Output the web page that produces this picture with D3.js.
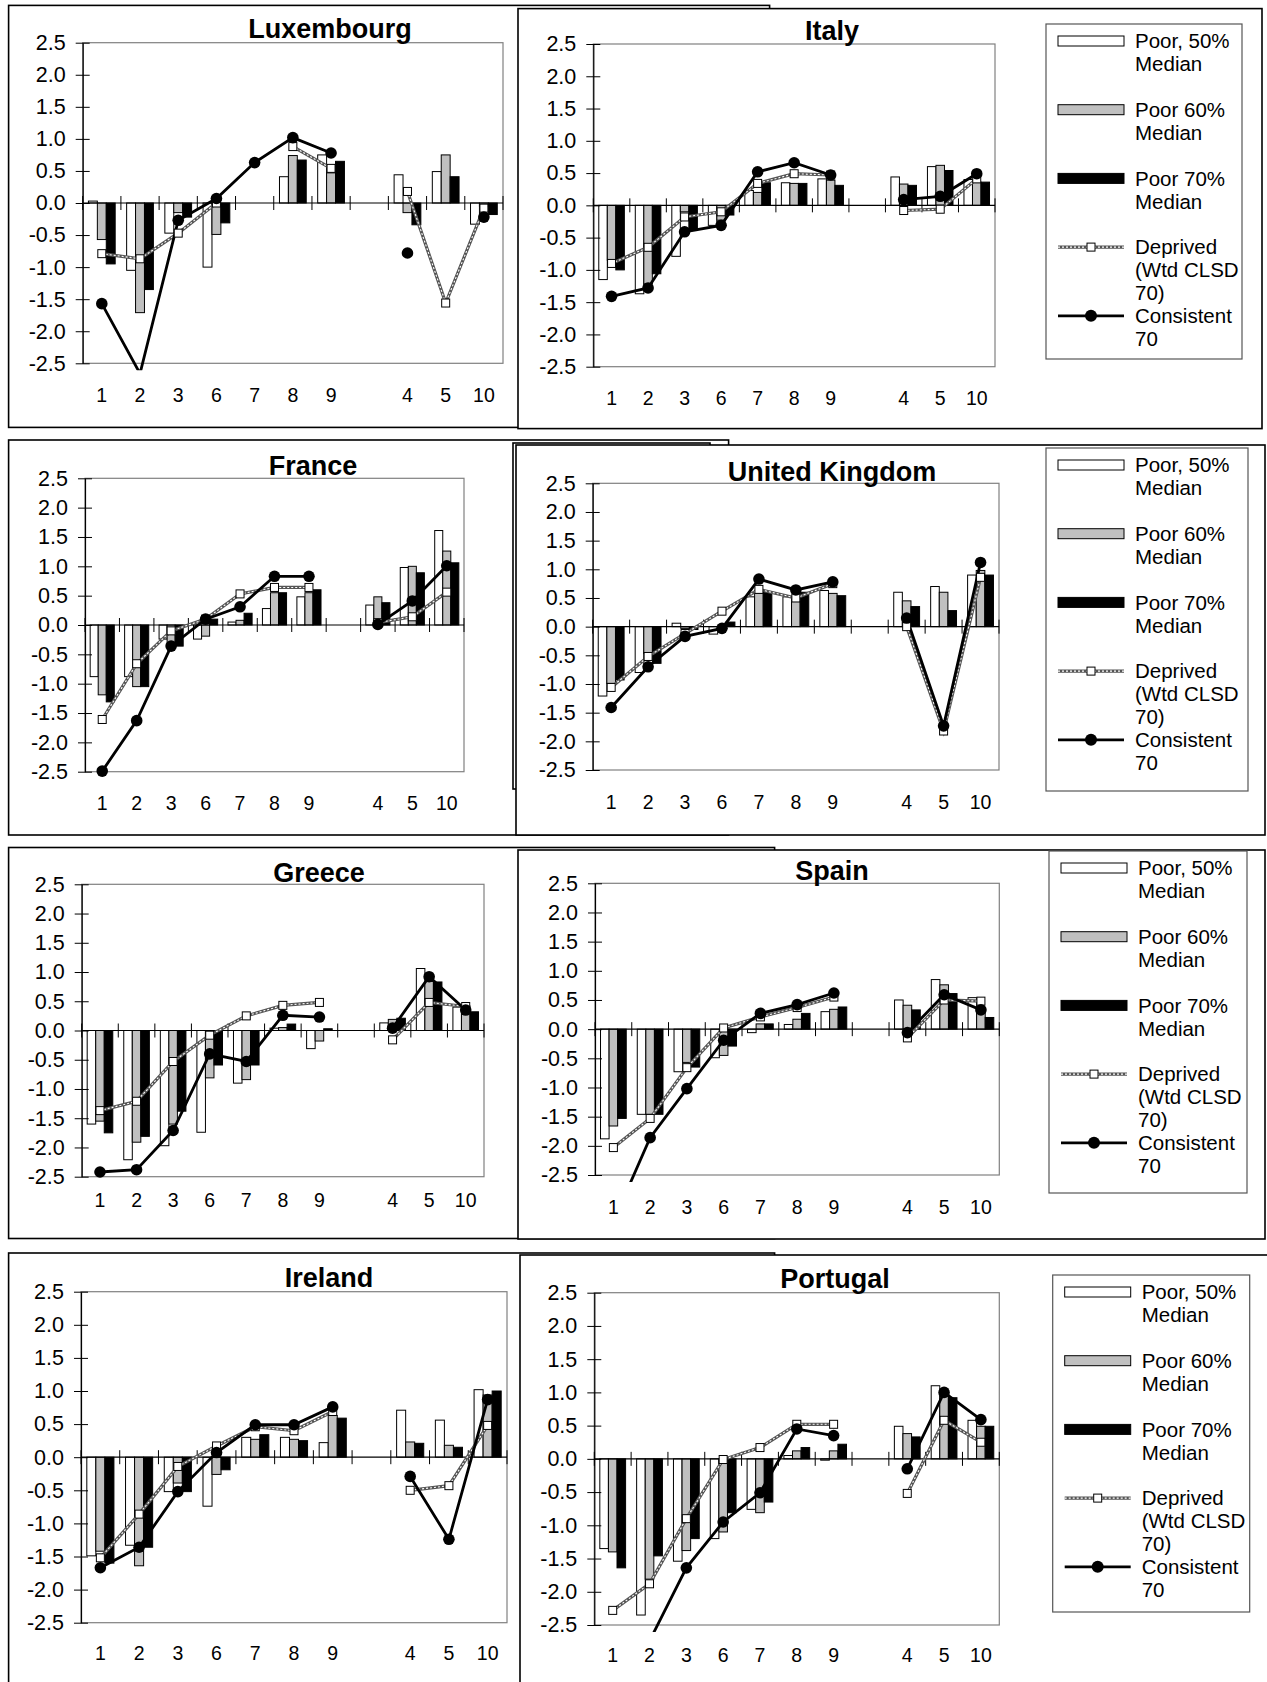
<!DOCTYPE html>
<meta charset="utf-8">
<title>Poverty and deprivation scores by country</title>
<script src="https://d3js.org/d3.v7.min.js"></script>
<style>
body { margin: 0; background: #fff; }
svg text { font-family: "Liberation Sans", Arial, sans-serif; }
</style>
<body>
<div id="chart"></div>
<script>
// x categories, "" is the empty slot between 9 and 4
var categories = ["1", "2", "3", "6", "7", "8", "9", "", "4", "5", "10"];
var countries = ["Luxembourg", "Italy", "France", "United Kingdom", "Greece", "Spain", "Ireland", "Portugal"];
var yTicks = [-2.5, -2.0, -1.5, -1.0, -0.5, 0.0, 0.5, 1.0, 1.5, 2.0, 2.5];

// one row per country, one value per category
var poor50 = [
  [0.03, -1.05, -0.47, -1.0, null, 0.41, 0.75, null, 0.44, 0.49, -0.33],
  [-1.15, -1.37, -0.79, -0.31, 0.23, 0.35, 0.41, null, 0.44, 0.60, 0.40],
  [-0.88, -0.88, -0.24, -0.24, 0.05, 0.28, 0.48, null, 0.34, 0.98, 1.61],
  [-1.21, -0.80, 0.06, -0.13, 0.52, 0.52, 0.63, null, 0.60, 0.70, 0.90],
  [-1.60, -2.21, -1.97, -1.74, -0.90, 0.04, -0.31, null, 0.13, 1.06, 0.40],
  [-1.88, -1.46, -0.73, -0.49, -0.06, 0.08, 0.30, null, 0.50, 0.85, 0.54],
  [-1.49, -1.33, -0.52, -0.74, 0.30, 0.30, 0.22, null, 0.71, 0.56, 1.02],
  [-1.35, -2.35, -1.54, -1.20, -0.76, 0.05, -0.02, null, 0.49, 1.10, 0.58]
];
var poor60 = [
  [-0.57, -1.71, -0.15, -0.49, null, 0.74, 0.47, null, -0.15, 0.75, -0.05],
  [-0.85, -1.22, -0.10, -0.23, 0.20, 0.34, 0.39, null, 0.33, 0.62, 0.36],
  [-1.19, -1.05, -0.36, -0.19, 0.08, 0.55, 0.55, null, 0.48, 1.00, 1.26],
  [-0.99, -0.47, -0.03, -0.05, 0.58, 0.44, 0.58, null, 0.45, 0.60, 0.98],
  [-1.55, -1.91, -1.60, -0.81, -0.84, 0.05, -0.18, null, 0.19, 0.84, 0.42],
  [-1.66, -1.46, -0.57, -0.45, 0.09, 0.17, 0.34, null, 0.41, 0.76, 0.35],
  [-1.42, -1.64, -0.39, -0.26, 0.27, 0.27, 0.63, null, 0.23, 0.18, 0.94],
  [-1.40, -1.81, -1.38, -1.10, -0.81, 0.12, 0.12, null, 0.38, 0.94, 0.49]
];
var poor70 = [
  [-0.95, -1.35, -0.22, -0.31, null, 0.67, 0.65, null, -0.34, 0.41, -0.18],
  [-1.00, -1.06, -0.39, -0.15, 0.35, 0.34, 0.31, null, 0.31, 0.54, 0.36],
  [-1.31, -1.05, -0.36, 0.10, 0.20, 0.55, 0.60, null, 0.38, 0.89, 1.06],
  [-0.93, -0.64, -0.05, 0.08, 0.60, 0.60, 0.54, null, 0.35, 0.28, 0.90],
  [-1.75, -1.81, -1.38, -0.59, -0.59, 0.11, 0.03, null, 0.21, 0.83, 0.32],
  [-1.53, -1.46, -0.65, -0.29, 0.09, 0.27, 0.38, null, 0.33, 0.61, 0.20],
  [-1.60, -1.36, -0.52, -0.19, 0.34, 0.25, 0.59, null, 0.21, 0.15, 1.00],
  [-1.64, -1.46, -1.20, -0.81, -0.65, 0.17, 0.22, null, 0.33, 0.92, 0.49]
];
var deprived = [
  [-0.79, -0.87, -0.47, 0.00, null, 0.88, 0.54, null, 0.18, -1.56, -0.08],
  [-0.90, -0.65, -0.18, -0.10, 0.34, 0.49, 0.47, null, -0.08, -0.06, 0.41],
  [-1.61, -0.66, -0.10, 0.10, 0.53, 0.64, 0.64, null, 0.04, 0.14, 0.56],
  [-1.06, -0.52, -0.12, 0.27, 0.65, 0.50, 0.75, null, 0.00, -1.82, 0.86],
  [-1.37, -1.21, -0.53, -0.08, 0.25, 0.43, 0.48, null, -0.16, 0.48, 0.41],
  [-2.03, -1.53, -0.66, 0.02, 0.21, 0.37, 0.55, null, -0.15, 0.50, 0.48],
  [-1.52, -0.86, -0.14, 0.17, 0.46, 0.40, 0.69, null, -0.50, -0.43, 0.48],
  [-2.28, -1.88, -0.90, -0.01, 0.17, 0.52, 0.52, null, -0.52, 0.58, 0.25]
];
var consistent = [
  [-1.57, -2.66, -0.27, 0.07, 0.63, 1.02, 0.78, null, -0.78, null, -0.22],
  [-1.41, -1.28, -0.41, -0.31, 0.52, 0.66, 0.47, null, 0.09, 0.14, 0.49],
  [-2.49, -1.63, -0.36, 0.10, 0.31, 0.83, 0.83, null, 0.01, 0.41, 1.01],
  [-1.41, -0.70, -0.17, -0.03, 0.83, 0.64, 0.78, null, 0.15, -1.73, 1.12],
  [-2.42, -2.38, -1.71, -0.40, -0.53, 0.26, 0.23, null, 0.04, 0.92, 0.35],
  [-3.30, -1.86, -1.02, -0.19, 0.27, 0.42, 0.62, null, -0.06, 0.59, 0.33],
  [-1.67, -1.36, -0.52, 0.07, 0.49, 0.49, 0.76, null, -0.29, -1.24, 0.87],
  [-3.20, -2.74, -1.64, -0.95, -0.51, 0.45, 0.35, null, -0.15, 1.00, 0.59]
];
var legendLabels = [
  ["Poor, 50%", "Median"],
  ["Poor 60%", "Median"],
  ["Poor 70%", "Median"],
  ["Deprived", "(Wtd CLSD", "70)"],
  ["Consistent", "70"]
];

// page layout: where each chart sits (pasted charts overlap a bit)
var frames = [
  [8.6, 5.4, 761, 422], [518, 8.6, 744, 420],
  [8.6, 440, 720, 395], [513, 443, 197, 346], [516, 445, 749, 390],
  [8.6, 847.5, 766, 391], [518, 850, 747, 389],
  [8.6, 1253, 766, 500], [520, 1255, 800, 500]
];
var panels = [
  {l: 82.7, r: 503, t: 42.7, b: 363.3, tx: 330, ty: 38, ly: 395},
  {l: 593.3, r: 995, t: 44, b: 366.7, tx: 832, ty: 40, ly: 398, legend: [1046, 24, 196, 335]},
  {l: 85, r: 464, t: 478.3, b: 771.7, tx: 313, ty: 475, ly: 803},
  {l: 592.7, r: 999, t: 483.3, b: 770, tx: 832, ty: 480.7, ly: 801.7, legend: [1046, 448, 202, 343]},
  {l: 81.7, r: 484, t: 884.3, b: 1176.7, tx: 319, ty: 882, ly: 1200},
  {l: 595, r: 999.3, t: 883.3, b: 1175, tx: 832, ty: 880, ly: 1206.7, legend: [1049, 851, 198, 342]},
  {l: 81, r: 507, t: 1291.7, b: 1622.7, tx: 329, ty: 1287, ly: 1653},
  {l: 594.3, r: 999.3, t: 1292.7, b: 1625, tx: 835, ty: 1288, ly: 1655, legend: [1052.7, 1275, 197, 337]}
];

var barFills = ["#ffffff", "#c0c0c0", "#000000"];
var W = 1267, H = 1682;

var svg = d3.select("#chart").append("svg")
  .attr("width", W).attr("height", H);
svg.append("rect").attr("width", W).attr("height", H).attr("fill", "#fff");

// frames round each pasted chart
svg.append("g").selectAll("rect")
  .data(frames).enter().append("rect")
    .attr("x", d => d[0]).attr("y", d => d[1])
    .attr("width", d => d[2]).attr("height", d => d[3])
    .attr("fill", "#fff").attr("stroke", "#000").attr("stroke-width", 1.6);

function pts(arr) {
  return arr.map(function(v, k) { return {c: categories[k], v: v}; });
}
function inRange(d) { return d.v != null && d.v >= -2.5 && d.v <= 2.5; }

countries.forEach(function(name, i) {
  var p = panels[i];
  var g = svg.append("g");

  var x = d3.scaleBand().domain(categories).range([p.l, p.r]);
  var y = d3.scaleLinear().domain([-2.5, 2.5]).range([p.b, p.t]);
  var bw = x.bandwidth();
  var xs = d3.scaleBand().domain([0, 1, 2]).range([bw * 0.15, bw * 0.85]);
  var cx = function(d) { return x(d.c) + bw / 2; };

  // plot area border
  g.append("rect")
    .attr("x", p.l).attr("y", p.t)
    .attr("width", p.r - p.l).attr("height", p.b - p.t)
    .attr("fill", "none").attr("stroke", "#808080").attr("stroke-width", 1.2);

  // bars
  [poor50, poor60, poor70].forEach(function(series, s) {
    g.append("g").selectAll("rect")
      .data(pts(series[i]).filter(d => d.v != null))
      .enter().append("rect")
        .attr("x", d => x(d.c) + xs(s))
        .attr("width", xs.bandwidth())
        .attr("y", d => y(Math.max(0, d.v)))
        .attr("height", d => Math.abs(y(d.v) - y(0)))
        .attr("fill", barFills[s])
        .attr("stroke", "#000").attr("stroke-width", 1);
  });

  // category axis along zero with cross ticks
  g.append("line")
    .attr("x1", p.l).attr("x2", p.r).attr("y1", y(0)).attr("y2", y(0))
    .attr("stroke", "#000").attr("stroke-width", 1.2);
  g.append("g").selectAll("line")
    .data(categories.map(c => x(c)).concat([p.r]))
    .enter().append("line")
      .attr("x1", d => d).attr("x2", d => d)
      .attr("y1", y(0) - 7).attr("y2", y(0) + 7)
      .attr("stroke", "#000").attr("stroke-width", 1);

  // category labels below the plot
  g.append("g").selectAll("text")
    .data(categories).enter().append("text")
      .attr("x", d => x(d) + bw / 2)
      .attr("y", p.ly)
      .attr("dy", "0.36em")
      .attr("text-anchor", "middle")
      .attr("font-size", 19.5)
      .text(d => d);

  // value axis
  g.append("g")
    .attr("transform", "translate(" + p.l + ",0)")
    .call(d3.axisLeft(y).tickValues(yTicks)
      .tickFormat(d => d.toFixed(1))
      .tickSizeInner(7).tickSizeOuter(0).tickPadding(10))
    .call(a => a.selectAll(".tick line").attr("x1", 7))
    .call(a => a.selectAll(".tick text")
      .attr("font-size", 21.5)
      .attr("font-family", '"Liberation Sans", Arial, sans-serif'))
    .call(a => a.select(".domain").attr("stroke-width", 1.2));

  // lines clipped to the plot (Excel lets them run a few px past the floor)
  var clipId = "clip" + i;
  svg.append("clipPath").attr("id", clipId)
    .append("rect")
      .attr("x", p.l - 10).attr("y", p.t - 10)
      .attr("width", p.r - p.l + 20).attr("height", p.b - p.t + 17);

  var line = d3.line()
    .defined(d => d.v != null)
    .x(cx).y(d => y(d.v));

  var dep = pts(deprived[i]);
  var lines = g.append("g").attr("clip-path", "url(#" + clipId + ")");
  lines.append("path").attr("d", line(dep))
    .attr("fill", "none").attr("stroke", "#555").attr("stroke-width", 3.2);
  lines.append("path").attr("d", line(dep))
    .attr("fill", "none").attr("stroke", "#fff").attr("stroke-width", 1.1)
    .attr("stroke-dasharray", "2,2");
  g.append("g").selectAll("rect")
    .data(dep.filter(inRange)).enter().append("rect")
      .attr("x", d => cx(d) - 4).attr("y", d => y(d.v) - 4)
      .attr("width", 8).attr("height", 8)
      .attr("fill", "#fff").attr("stroke", "#000").attr("stroke-width", 1);

  var con = pts(consistent[i]);
  lines.append("path").attr("d", line(con))
    .attr("fill", "none").attr("stroke", "#000").attr("stroke-width", 2.8);
  g.append("g").selectAll("circle")
    .data(con.filter(inRange)).enter().append("circle")
      .attr("cx", cx).attr("cy", d => y(d.v))
      .attr("r", 5.8).attr("fill", "#000");

  // title
  g.append("text")
    .attr("x", p.tx).attr("y", p.ty)
    .attr("text-anchor", "middle")
    .attr("font-size", 27).attr("font-weight", "bold")
    .text(name);

  // legend on the right-hand charts
  if (p.legend) {
    var L = p.legend;
    var lg = svg.append("g");
    lg.append("rect")
      .attr("x", L[0]).attr("y", L[1]).attr("width", L[2]).attr("height", L[3])
      .attr("fill", "#fff").attr("stroke", "#555").attr("stroke-width", 1.2);
    var row = 0;
    legendLabels.forEach(function(lines, k) {
      var cy = L[1] + 17 + row * 22.9;
      var sx = L[0] + 12, sw = 66;
      if (k < 3) {
        lg.append("rect")
          .attr("x", sx).attr("y", cy - 5).attr("width", sw).attr("height", 10)
          .attr("fill", barFills[k]).attr("stroke", "#000").attr("stroke-width", 1);
      } else if (k === 3) {
        lg.append("line").attr("x1", sx).attr("x2", sx + sw).attr("y1", cy).attr("y2", cy)
          .attr("stroke", "#555").attr("stroke-width", 3.2);
        lg.append("line").attr("x1", sx).attr("x2", sx + sw).attr("y1", cy).attr("y2", cy)
          .attr("stroke", "#fff").attr("stroke-width", 1.1).attr("stroke-dasharray", "2,2");
        lg.append("rect").attr("x", sx + sw / 2 - 4).attr("y", cy - 4)
          .attr("width", 8).attr("height", 8)
          .attr("fill", "#fff").attr("stroke", "#000");
      } else {
        lg.append("line").attr("x1", sx).attr("x2", sx + sw).attr("y1", cy).attr("y2", cy)
          .attr("stroke", "#000").attr("stroke-width", 2.8);
        lg.append("circle").attr("cx", sx + sw / 2).attr("cy", cy).attr("r", 6).attr("fill", "#000");
      }
      lines.forEach(function(t, j) {
        lg.append("text")
          .attr("x", L[0] + 89).attr("y", cy + j * 22.9)
          .attr("dy", "0.36em")
          .attr("font-size", 20.5)
          .text(t);
      });
      row += lines.length + (k < 3 ? 1 : 0);
    });
  }
});
</script>
